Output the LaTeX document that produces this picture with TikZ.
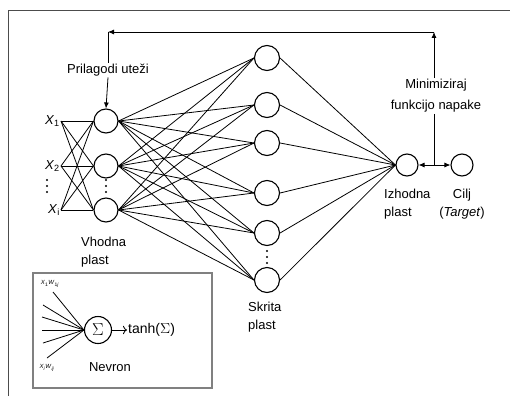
\documentclass[tikz,border=0pt]{standalone}
\usepackage{fontspec}
\setmainfont{Liberation Sans}
\usetikzlibrary{arrows.meta,positioning}

\tikzset{
  neuron/.style={circle,draw,line width=1.1pt,minimum size=24pt,inner sep=0pt},
  lbl/.style={font=\fontsize{13}{18}\selectfont,inner sep=1pt},
  tinylbl/.style={font=\fontsize{6}{7}\selectfont,inner sep=0pt},
  link/.style={line width=0.8pt},
  tip/.style={-{Latex[length=6pt,width=5pt]}},
}

\begin{document}
\begin{tikzpicture}[x=1pt,y=-1pt]
  \useasboundingbox (0,0) rectangle (510,396);
  % frame
  \draw[gray!60!black,line width=1pt] (8,396) -- (8,11) -- (510,11);
  % input layer
  \foreach \i/\y in {1/121,2/166,3/210} {
    \node[neuron] (in\i) at (106,\y) {};
  }
  \foreach \i/\y/\s in {1/121/1,2/166/2,3/210/i} {
    \node[lbl,anchor=east] (x\i) at (61,\y) {\textit{X}\textsubscript{\s}};
  }
  % vertical dots
  \foreach \x/\y in {47/180,106/180,267/251} {
    \foreach \d in {0,6,12} {
      \fill (\x,\y+\d) circle (1.2pt);
    }
  }
  \foreach \i in {1,2,3} {
    \foreach \j in {1,2,3} {
      \draw[link] (x\i.east) -- (in\j.west);
    }
  }
  \node[lbl,anchor=west,align=left] (inlbl) at (80,252) {Vhodna\\plast};
  % hidden layer
  \foreach \j/\y in {1/58,2/105,3/143,4/193,5/233,6/280} {
    \node[neuron,minimum size=25pt] (hid\j) at (267,\y) {};
  }
  \node[lbl,anchor=west,align=left] (hidlbl) at (247,317) {Skrita\\plast};
  % output and target
  \node[neuron,minimum size=22pt] (out) at (407,165) {};
  \node[neuron,minimum size=22pt] (tgt) at (462,165) {};
  \node[lbl,anchor=west,align=left] (outlbl) at (383,204) {Izhodna\\plast};
  \node[lbl,align=center] (tgtlbl) at (462,204) {Cilj\\(\textit{Target})};
  \foreach \i in {1,2,3} {
    \foreach \j in {1,...,6} {
      \draw[link] (in\i.east) -- (hid\j.west);
    }
  }
  \foreach \j in {1,...,6} {
    \draw[link] (hid\j.east) -- (out.west);
  }
  % error feedback
  \node[lbl,align=center,font=\fontsize{13}{21}\selectfont] (minlbl) at (436,96) {Minimiziraj\\funkcijo napake};
  \node[lbl] (adjlbl) at (108,70) {Prilagodi uteži};
  \coordinate (jn) at (434,165);
  \coordinate (fbR) at (434,32);
  \coordinate (fbL) at (108,32);
  \draw[link] (minlbl.south -| jn) -- (jn);
  \draw[link,tip] (jn) -- (out.east);
  \draw[link,tip] (jn) -- (tgt.west);
  \draw[link,tip] (minlbl.north -| fbR) -- (fbR);
  \draw[link,tip] (fbR) -- (fbL);
  \draw[link] (fbL) -- (adjlbl.north);
  \draw[link,tip] (adjlbl.south) -- (in1.north);
  % single neuron
  \draw[gray,line width=1.3pt] (33,273) rectangle (212,388);
  \node[neuron,minimum size=27pt] (sig) at (98,330) {\fontsize{16}{16}\selectfont$\Sigma$};
  \node[lbl,anchor=west,font=\fontsize{14}{14}\selectfont] (tanh) at (127,330) {tanh($\Sigma$)};
  \draw[link,-{To[length=4pt]}] (sig.east) -- (tanh.west);
  \foreach \k/\p in {1/{53,292},2/{43,305},3/{42,317},4/{42,330},5/{43,343},6/{47,358}} {
    \coordinate (w\k) at (\p);
    \draw[link] (w\k) -- (sig.west);
  }
  \node[tinylbl] (w1lbl) at (50,284) {\textit{X}\textsubscript{1}\textit{W}\textsubscript{1\textit{j}}};
  \node[tinylbl] (wilbl) at (47,368) {\textit{X}\textsubscript{\textit{i}}\textit{W}\textsubscript{\textit{ij}}};
  \node[lbl] (nrnlbl) at (110,367) {Nevron};
\end{tikzpicture}
\end{document}
